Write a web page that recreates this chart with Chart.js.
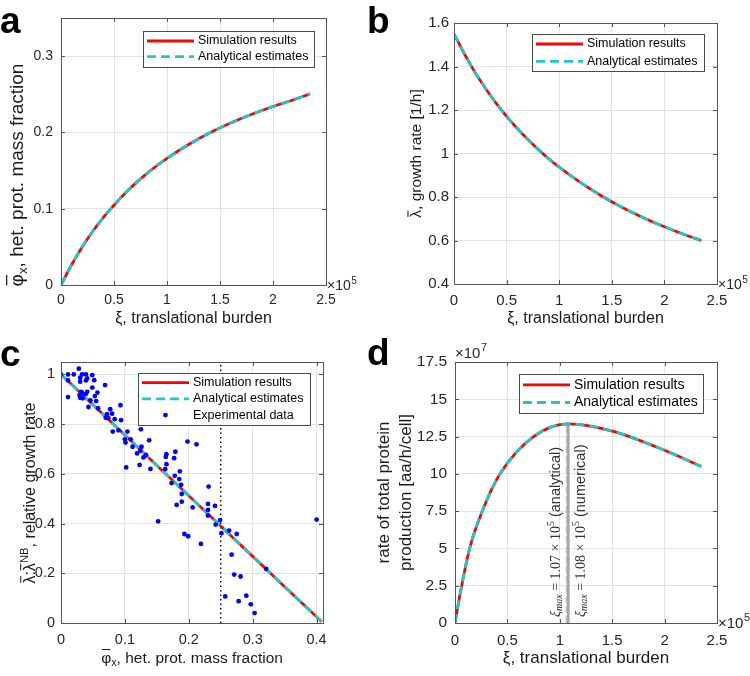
<!DOCTYPE html>
<html>
<head>
<meta charset="utf-8">
<script src="https://cdn.jsdelivr.net/npm/chart.js@4.4.1/dist/chart.umd.min.js"></script>
<style>
  body { margin: 0; background: #fff; }
  #fig { position: relative; width: 750px; height: 676px; overflow: hidden; }
  .panel { position: absolute; }
  .tag { position: absolute; font: bold 37px "Liberation Sans", Arial, sans-serif; line-height: 1; color: #000; }
</style>
</head>
<body>
<div id="fig">
  <div class="panel" style="left:0;top:0"><canvas id="chartA" width="375" height="335"></canvas></div>
  <div class="panel" style="left:375px;top:0"><canvas id="chartB" width="375" height="335"></canvas></div>
  <div class="panel" style="left:0;top:338px"><canvas id="chartC" width="375" height="338"></canvas></div>
  <div class="panel" style="left:372px;top:338px"><canvas id="chartD" width="378" height="338"></canvas></div>
  <div class="tag" style="left:0;top:2px">a</div>
  <div class="tag" style="left:367px;top:2px">b</div>
  <div class="tag" style="left:0;top:335px">c</div>
  <div class="tag" style="left:367px;top:334px">d</div>
</div>
<script>
// translational burden xi, in units of 1e5 (panels a, b)
const burden = [0, 0.1, 0.2, 0.3, 0.4, 0.5, 0.6, 0.7, 0.8, 0.9, 1.0, 1.2, 1.4, 1.6, 1.8, 2.0, 2.2, 2.35];
const phiX = [0, 0.0265, 0.0499, 0.0705, 0.0887, 0.1045, 0.1197, 0.1329, 0.145, 0.156, 0.166, 0.1838, 0.1991, 0.2123, 0.2238, 0.234, 0.2431, 0.2505];
const growthRate = [1.55, 1.457, 1.373, 1.299, 1.232, 1.171, 1.116, 1.065, 1.019, 0.976, 0.937, 0.867, 0.806, 0.752, 0.705, 0.663, 0.6255, 0.600];

// panel c: relative growth rate vs het. protein mass fraction
const phiLine = [0, 0.05, 0.1, 0.15, 0.2, 0.25, 0.3, 0.35, 0.408];
const relGrowthLine = [1, 0.878, 0.756, 0.634, 0.512, 0.39, 0.268, 0.146, 0.005];
const expPhi = [0, 0.011, 0.011, 0.011, 0.020, 0.028, 0.030, 0.030, 0.033, 0.029,
  0.030, 0.032, 0.034, 0.036, 0.039, 0.039, 0.041, 0.039, 0.041, 0.043,
  0.049, 0.052, 0.049, 0.046, 0.053, 0.055, 0.057, 0.058, 0.069, 0.070,
  0.072, 0.074, 0.077, 0.080, 0.081, 0.084, 0.090, 0.093, 0.094, 0.100,
  0.101, 0.102, 0.104, 0.109, 0.112, 0.119, 0.123, 0.124, 0.125, 0.126,
  0.129, 0.133, 0.138, 0.140, 0.152, 0.163, 0.164, 0.165, 0.165, 0.173,
  0.177, 0.179, 0.178, 0.181, 0.185, 0.186, 0.188, 0.189, 0.189, 0.193,
  0.198, 0.199, 0.206, 0.212, 0.219, 0.230, 0.231, 0.230, 0.230, 0.241,
  0.242, 0.249, 0.251, 0.263, 0.267, 0.271, 0.275, 0.257, 0.278, 0.281,
  0.290, 0.297, 0.303, 0.321, 0.400];
const expRelGrowth = [1.0, 1.0, 0.976, 0.909, 1.0, 1.023, 0.987, 0.971, 1.0, 0.917,
  0.906, 0.930, 0.904, 0.920, 1.0, 0.976, 0.984, 0.922, 0.930, 0.869,
  0.997, 0.977, 0.947, 0.896, 0.913, 0.893, 0.927, 0.864, 0.957, 0.826,
  0.840, 0.824, 0.860, 0.842, 0.770, 0.820, 0.775, 0.876, 0.816, 0.739,
  0.726, 0.626, 0.770, 0.739, 0.709, 0.682, 0.636, 0.693, 0.779, 0.709,
  0.666, 0.676, 0.735, 0.620, 0.409, 0.619, 0.668, 0.679, 0.639, 0.563,
  0.663, 0.689, 0.592, 0.475, 0.579, 0.610, 0.556, 0.519, 0.488, 0.358,
  0.730, 0.349, 0.465, 0.719, 0.318, 0.479, 0.549, 0.455, 0.432, 0.471,
  0.396, 0.414, 0.361, 0.372, 0.275, 0.195, 0.358, 0.107, 0.088, 0.187,
  0.110, 0.075, 0.040, 0.218, 0.416];
const phiThreshold = 0.25;

// panel d: total protein production rate, in units of 1e7 aa/h/cell
const burdenD = [0, 0.05, 0.14, 0.26, 0.43, 0.75, 1.08, 1.5, 2.0, 2.35];
const proteinRate = [0, 2.0, 5.0, 7.5, 10.0, 12.5, 13.35, 12.87, 11.58, 10.5];
const xiMaxAnalytical = 1.07;
const xiMaxNumerical = 1.08;
const rateAtMax = 13.35;

// tick values
const burdenTicks = [0, 0.5, 1, 1.5, 2, 2.5];
const phiTicksA = [0, 0.1, 0.2, 0.3];
const growthTicks = [0.4, 0.6, 0.8, 1, 1.2, 1.4, 1.6];
const phiTicksC = [0, 0.1, 0.2, 0.3, 0.4];
const relTicks = [0, 0.2, 0.4, 0.6, 0.8, 1];
const rateTicks = [0, 2.5, 5, 7.5, 10, 12.5, 15, 17.5];

const FONT = '"Liberation Sans", "DejaVu Sans", Arial, sans-serif';
const SERIF = '"Liberation Serif", "DejaVu Serif", serif';
const RED = '#ff0000';
const CYAN = '#1ec8c8';
const GRID = '#e3e3e3';
const AXIS = '#555555';
const TXT = '#262626';

const pts = (xs, ys) => xs.map((x, i) => ({ x, y: ys[i] }));

function axis(tickVals, min, max, o) {
  return {
    type: 'linear', min, max,
    afterBuildTicks: s => { s.ticks = tickVals.map(v => ({ value: v })); },
    afterFit: s => { if (s.isHorizontal()) s.height = o.size; else s.width = o.size; },
    ticks: {
      color: TXT, font: { family: FONT, size: o.font }, padding: o.pad,
      maxRotation: 0, autoSkip: false,
      callback: v => String(+(+v).toFixed(2)),
    },
    grid: { color: GRID, drawTicks: false },
    border: { display: false },
    title: {
      display: !!o.title, text: o.title || '', color: '#1a1a1a',
      font: { family: FONT, size: o.titleSize, lineHeight: o.lh || 1.2 },
      padding: { top: o.tp || 0, bottom: o.tp || 0 },
    },
  };
}

function curve(label, xs, ys, dashed) {
  return {
    label, data: pts(xs, ys), showLine: true, pointRadius: 0,
    borderColor: dashed ? CYAN : RED, borderWidth: 2.8,
    borderDash: dashed ? [9, 5] : [], cubicInterpolationMode: 'monotone',
    order: dashed ? 0 : 1,
  };
}

function drawExp(ctx, x, y, exp, size) {
  ctx.font = `${size}px ${FONT}`;
  ctx.fillStyle = TXT;
  ctx.textAlign = 'left';
  ctx.textBaseline = 'alphabetic';
  ctx.fillText('×10', x, y);
  const w = ctx.measureText('×10').width;
  ctx.font = `${size * 0.72}px ${FONT}`;
  ctx.fillText(exp, x + w + 0.5, y - size * 0.45);
}

// axis label with overline / sub / superscript pieces, centred on (cx, cy)
function drawRich(ctx, segs, size, cx, cy, vertical) {
  ctx.save();
  ctx.translate(cx, cy);
  if (vertical) ctx.rotate(-Math.PI / 2);
  ctx.fillStyle = '#1a1a1a';
  ctx.textAlign = 'left';
  ctx.textBaseline = 'alphabetic';
  const fontFor = k => `${(k === 'sub' || k === 'sup') ? size * 0.7 : size}px ${FONT}`;
  let w = 0;
  segs.forEach(([t, k]) => { ctx.font = fontFor(k); w += ctx.measureText(t).width; });
  let x = -w / 2;
  const base = size * 0.35;
  segs.forEach(([t, k]) => {
    ctx.font = fontFor(k);
    const dy = k === 'sub' ? size * 0.22 : k === 'sup' ? -size * 0.42 : 0;
    ctx.fillText(t, x, base + dy);
    const tw = ctx.measureText(t).width;
    if (k === 'bar') ctx.fillRect(x + tw * 0.08, base - size * 0.9, tw * 0.84, Math.max(1, size * 0.065));
    x += tw;
  });
  ctx.restore();
}

// box, inward ticks, legend and extras in the MATLAB look
function frame(o) {
  return {
    id: 'frame',
    afterDatasetsDraw(chart) {
      const { ctx, chartArea: a, scales: { x, y } } = chart;
      ctx.save();
      ctx.strokeStyle = AXIS;
      ctx.lineWidth = 1;
      ctx.beginPath();
      x.ticks.forEach(t => {
        const px = Math.round(x.getPixelForValue(t.value)) + 0.5;
        ctx.moveTo(px, a.bottom); ctx.lineTo(px, a.bottom - 4);
        ctx.moveTo(px, a.top); ctx.lineTo(px, a.top + 4);
      });
      y.ticks.forEach(t => {
        const py = Math.round(y.getPixelForValue(t.value)) + 0.5;
        ctx.moveTo(a.left, py); ctx.lineTo(a.left + 4, py);
        ctx.moveTo(a.right, py); ctx.lineTo(a.right - 4, py);
      });
      ctx.stroke();
      ctx.strokeRect(Math.round(a.left) + 0.5, Math.round(a.top) + 0.5,
        Math.round(a.right - a.left), Math.round(a.bottom - a.top));

      if (o.xExp) drawExp(ctx, a.right + 1, a.bottom + 5, o.xExp, o.expSize);
      if (o.yExp) drawExp(ctx, a.left, a.top - 4, o.yExp, o.expSize);
      (o.labels || []).forEach(l => drawRich(ctx, l.segs, l.size, l.cx, l.cy, l.vertical));
      if (o.after) o.after(chart);

      // legend
      const L = o.legend;
      const items = chart.data.datasets.filter(d => d.inLegend !== false);
      const h = L.pad * 2 + items.length * L.row;
      const left = Math.round(a.right - L.right - L.width);
      const top = Math.round(a.top + L.top);
      ctx.fillStyle = '#fff';
      ctx.fillRect(left, top, L.width, h);
      ctx.strokeStyle = '#4a4a4a';
      ctx.lineWidth = 1;
      ctx.strokeRect(left + 0.5, top + 0.5, Math.round(L.width), Math.round(h));
      items.forEach((d, i) => {
        const cy = top + L.pad + L.row * (i + 0.5);
        if (d.showLine) {
          ctx.beginPath();
          ctx.strokeStyle = d.borderColor;
          ctx.lineWidth = d.borderWidth;
          ctx.setLineDash(d.borderDash || []);
          ctx.moveTo(left + 4, cy); ctx.lineTo(left + 51, cy);
          ctx.stroke();
          ctx.setLineDash([]);
        } else {
          ctx.beginPath();
          ctx.fillStyle = d.pointBackgroundColor;
          ctx.arc(left + 27.5, cy, d.pointRadius, 0, Math.PI * 2);
          ctx.fill();
        }
        ctx.fillStyle = '#000';
        ctx.font = `${L.size}px ${FONT}`;
        ctx.textAlign = 'left';
        ctx.textBaseline = 'middle';
        ctx.fillText(d.label, left + 55, cy);
      });
      ctx.restore();
    },
  };
}

function baseOptions(pad, xAxis, yAxis) {
  return {
    responsive: false, animation: false,
    layout: { padding: { top: pad.top, right: pad.right, left: 0, bottom: 0 } },
    scales: { x: xAxis, y: yAxis },
    plugins: { legend: { display: false }, tooltip: { enabled: false } },
  };
}

const phiLabel = [['φ', 'bar'], ['x', 'sub'], [', het. prot. mass fraction', '']];

// a
new Chart(document.getElementById('chartA'), {
  type: 'scatter',
  data: { datasets: [
    curve('Simulation results', burden, phiX, false),
    curve('Analytical estimates', burden, phiX, true),
  ] },
  options: baseOptions({ top: 18, right: 49 },
    axis(burdenTicks, 0, 2.5, { size: 50, font: 14, pad: 7, title: 'ξ, translational burden', titleSize: 16, tp: 6.5 }),
    axis(phiTicksA, 0, 0.35, { size: 61, font: 14, pad: 8 })),
  plugins: [frame({ xExp: '5', expSize: 14,
    labels: [{ segs: phiLabel, size: 19, cx: 16.5, cy: 175, vertical: true }],
    legend: { right: 12, top: 13.4, width: 171, row: 15.6, pad: 2.2, size: 12.5 } })],
});

// b
new Chart(document.getElementById('chartB'), {
  type: 'scatter',
  data: { datasets: [
    curve('Simulation results', burden, growthRate, false),
    curve('Analytical estimates', burden, growthRate, true),
  ] },
  options: baseOptions({ top: 23, right: 33 },
    axis(burdenTicks, 0, 2.5, { size: 51, font: 15, pad: 8, title: 'ξ, translational burden', titleSize: 16, tp: 6.5 }),
    axis(growthTicks, 0.4, 1.6, { size: 79, font: 15, pad: 5 })),
  plugins: [frame({ xExp: '5', expSize: 14,
    labels: [{ segs: [['λ', 'bar'], [', growth rate [1/h]', '']], size: 15.5, cx: 41, cy: 153.5, vertical: true }],
    legend: { right: 13.4, top: 10.6, width: 171.6, row: 17.4, pad: 1.3, size: 12.5 } })],
});

// c
new Chart(document.getElementById('chartC'), {
  type: 'scatter',
  data: { datasets: [
    curve('Simulation results', phiLine, relGrowthLine, false),
    curve('Analytical estimates', phiLine, relGrowthLine, true),
    { label: 'Experimental data', data: pts(expPhi, expRelGrowth), showLine: false,
      pointRadius: 2.4, pointBackgroundColor: '#0000ff', pointBorderWidth: 0, order: -1 },
    { label: 'threshold', inLegend: false, data: [{ x: phiThreshold, y: 0 }, { x: phiThreshold, y: 1.05 }],
      showLine: true, pointRadius: 0, borderColor: '#000', borderWidth: 1.4, borderDash: [1.5, 3], order: 2 },
  ] },
  options: baseOptions({ top: 24, right: 52 },
    axis(phiTicksC, 0, 0.41, { size: 53, font: 14.5, pad: 8 }),
    axis(relTicks, 0, 1.05, { size: 61, font: 14.5, pad: 6 })),
  plugins: [frame({
    labels: [
      { segs: phiLabel, size: 15.5, cx: 192, cy: 319.5, vertical: false },
      { segs: [['λ', 'bar'], [':', ''], ['λ', 'bar'], ['NB', 'sup'], [', relative growth rate', '']], size: 16, cx: 29, cy: 155, vertical: true },
    ],
    legend: { right: 12.3, top: 11.3, width: 172.4, row: 16.2, pad: 1.6, size: 12.5 } })],
});

// d
function drawXiMax(ctx, x, yBottom, value, note) {
  ctx.save();
  ctx.translate(x, yBottom);
  ctx.rotate(-Math.PI / 2);
  ctx.textAlign = 'left';
  ctx.textBaseline = 'middle';
  ctx.fillStyle = '#333';
  let cx = 0;
  const seg = (t, font, dy) => { ctx.font = font; ctx.fillText(t, cx, dy || 0); cx += ctx.measureText(t).width; };
  seg('ξ', `italic 14px ${SERIF}`);
  seg('max', `italic 10px ${SERIF}`, 3.5);
  seg(' = ' + value.toFixed(2) + ' × 10', `14px ${SERIF}`);
  seg('5', `10px ${SERIF}`, -5);
  seg(' (' + note + ')', `14.5px ${FONT}`);
  ctx.restore();
}

new Chart(document.getElementById('chartD'), {
  type: 'scatter',
  data: { datasets: [
    curve('Simulation results', burdenD, proteinRate, false),
    curve('Analytical estimates', burdenD, proteinRate, true),
    { label: 'analytical max', inLegend: false, data: [{ x: xiMaxAnalytical, y: 0 }, { x: xiMaxAnalytical, y: rateAtMax }],
      showLine: true, pointRadius: 0, borderColor: '#cdcdcd', borderWidth: 3, borderDash: [7, 3], order: 3 },
    { label: 'numerical max', inLegend: false, data: [{ x: xiMaxNumerical, y: 0 }, { x: xiMaxNumerical, y: rateAtMax }],
      showLine: true, pointRadius: 0, borderColor: '#a8a8a8', borderWidth: 3, order: 2 },
  ] },
  options: baseOptions({ top: 24, right: 33 },
    axis(burdenTicks, 0, 2.5, { size: 53, font: 15, pad: 8.5, title: 'ξ, translational burden', titleSize: 17, tp: 7 }),
    axis(rateTicks, 0, 17.5, { size: 83, font: 15.5, pad: 8, title: ['rate of total protein', 'production [aa/h/cell]'], titleSize: 17, lh: 1.3, tp: 1 })),
  plugins: [frame({ xExp: '5', yExp: '7', expSize: 15,
    legend: { right: 13.7, top: 12, width: 184.3, row: 17.6, pad: 2.1, size: 14 },
    after(chart) {
      const { ctx, chartArea: a, scales: { x } } = chart;
      drawXiMax(ctx, x.getPixelForValue(xiMaxAnalytical) - 11, a.bottom - 6, xiMaxAnalytical, 'analytical');
      drawXiMax(ctx, x.getPixelForValue(xiMaxNumerical) + 13, a.bottom - 6, xiMaxNumerical, 'numerical');
    } })],
});
</script>
</body>
</html>
